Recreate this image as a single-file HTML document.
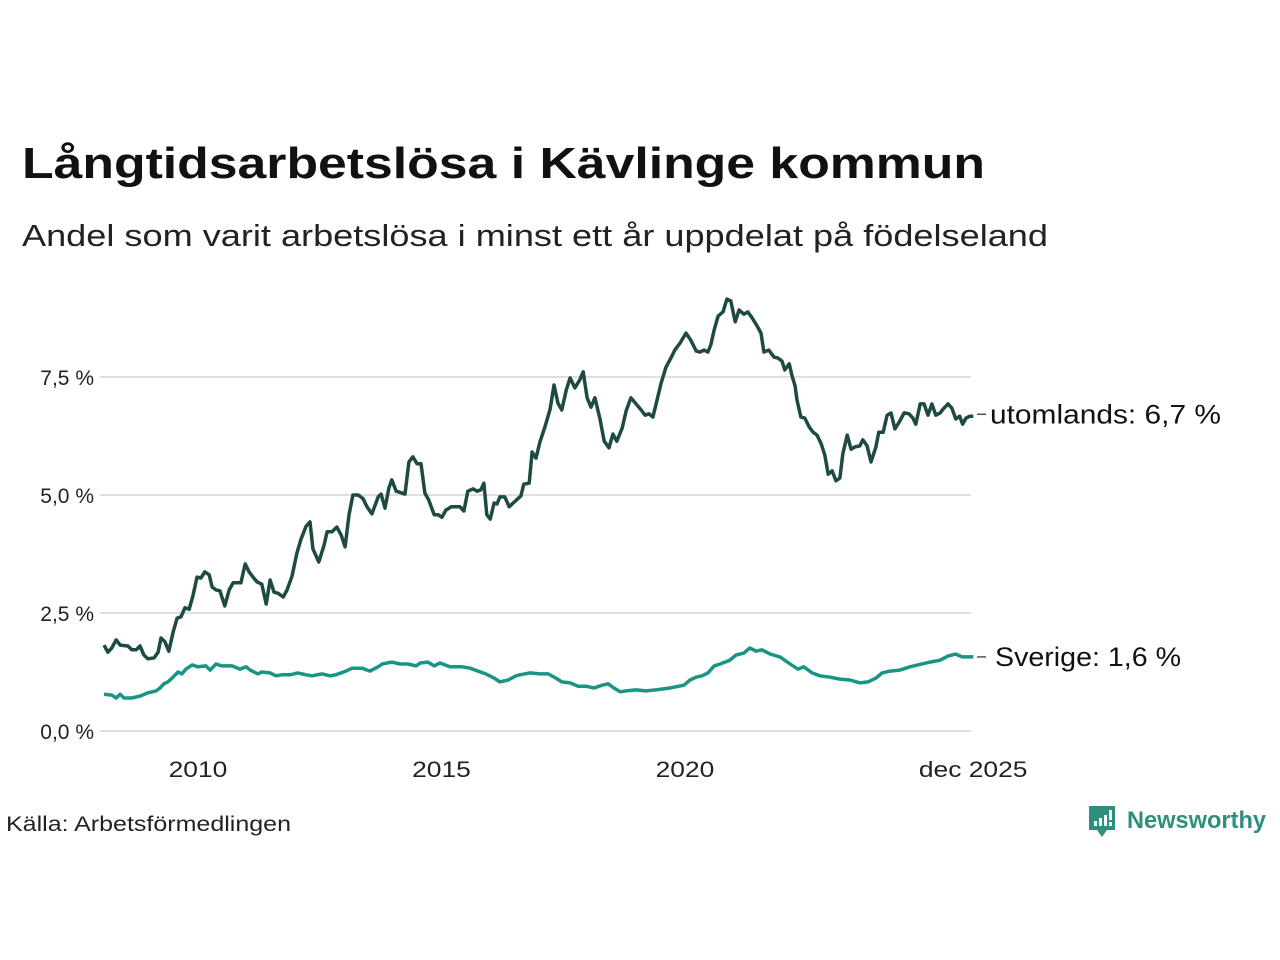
<!DOCTYPE html>
<html><head><meta charset="utf-8">
<style>
html,body{margin:0;padding:0;background:#fff;}
svg{display:block;font-family:"Liberation Sans","DejaVu Sans",sans-serif;}
</style></head>
<body>
<svg id="chart" width="1280" height="960" viewBox="0 0 1280 960">
<text x="22" y="178" font-size="44" font-weight="bold" fill="#111" textLength="963" lengthAdjust="spacingAndGlyphs">Långtidsarbetslösa i Kävlinge kommun</text>
<text x="22" y="246" font-size="31" fill="#222" textLength="1026" lengthAdjust="spacingAndGlyphs">Andel som varit arbetslösa i minst ett år uppdelat på födelseland</text>
<g id="grid"></g>
<g id="yaxis"></g>
<g id="xaxis"></g>
<g id="lines"></g>
<text x="6" y="831" font-size="21" fill="#222" textLength="285" lengthAdjust="spacingAndGlyphs">Källa: Arbetsförmedlingen</text>
<g>
<path d="M1089 806 h26 v24 h-8 l-5 7 l-5 -7 h-8 z" fill="#2e8f7f"/>
<rect x="1094" y="821" width="3" height="5" fill="#fff"/><rect x="1099" y="818" width="3" height="8" fill="#fff"/><rect x="1104" y="815" width="3" height="11" fill="#fff"/><rect x="1109" y="810" width="3" height="10" fill="#fff"/><rect x="1109" y="822" width="3" height="4" fill="#fff"/>
<text x="1127" y="828" font-size="24" font-weight="bold" fill="#2e8f7f" textLength="139" lengthAdjust="spacingAndGlyphs">Newsworthy</text>
</g>
</svg>
<script>
const yTicks=[0,2.5,5,7.5];
const yTickLabels=["0,0 %","2,5 %","5,0 %","7,5 %"];
const xTicks=[2010,2015,2020,2025.917];
const xTickLabels=["2010","2015","2020","dec 2025"];
const abroadDates=[2008.07,2008.15,2008.23,2008.32,2008.40,2008.56,2008.64,2008.73,2008.81,2008.89,2008.97,2009.10,2009.18,2009.24,2009.32,2009.40,2009.49,2009.57,2009.65,2009.73,2009.82,2009.90,2009.98,2010.06,2010.14,2010.23,2010.29,2010.37,2010.45,2010.55,2010.64,2010.72,2010.88,2010.97,2011.05,2011.13,2011.21,2011.31,2011.40,2011.48,2011.56,2011.64,2011.75,2011.83,2011.93,2012.03,2012.11,2012.22,2012.30,2012.36,2012.48,2012.59,2012.65,2012.75,2012.85,2012.94,2013.02,2013.10,2013.18,2013.29,2013.39,2013.47,2013.57,2013.70,2013.76,2013.84,2013.92,2013.98,2014.07,2014.19,2014.25,2014.33,2014.41,2014.50,2014.58,2014.66,2014.74,2014.85,2014.93,2015.01,2015.09,2015.20,2015.38,2015.46,2015.54,2015.65,2015.73,2015.81,2015.87,2015.93,2016.00,2016.08,2016.14,2016.20,2016.30,2016.39,2016.47,2016.63,2016.69,2016.80,2016.86,2016.94,2017.02,2017.13,2017.23,2017.31,2017.39,2017.47,2017.56,2017.64,2017.74,2017.84,2017.91,2017.99,2018.07,2018.15,2018.25,2018.34,2018.44,2018.52,2018.60,2018.71,2018.79,2018.89,2019.01,2019.10,2019.18,2019.26,2019.34,2019.42,2019.51,2019.61,2019.71,2019.79,2019.90,2020.02,2020.12,2020.23,2020.31,2020.39,2020.47,2020.53,2020.60,2020.68,2020.78,2020.86,2020.94,2021.03,2021.11,2021.21,2021.29,2021.38,2021.48,2021.56,2021.62,2021.72,2021.83,2021.91,2021.99,2022.05,2022.14,2022.20,2022.26,2022.30,2022.38,2022.46,2022.55,2022.63,2022.71,2022.79,2022.87,2022.94,2023.02,2023.10,2023.18,2023.24,2023.33,2023.41,2023.49,2023.59,2023.65,2023.74,2023.82,2023.92,2023.98,2024.07,2024.15,2024.23,2024.31,2024.39,2024.50,2024.60,2024.68,2024.74,2024.83,2024.91,2024.99,2025.07,2025.15,2025.24,2025.30,2025.40,2025.48,2025.56,2025.64,2025.70,2025.77,2025.85,2025.92];
const abroadValues=[1.82,1.67,1.76,1.93,1.82,1.80,1.72,1.72,1.80,1.61,1.53,1.55,1.67,1.97,1.89,1.69,2.10,2.39,2.42,2.61,2.58,2.88,3.26,3.24,3.37,3.31,3.05,2.99,2.97,2.65,2.99,3.14,3.14,3.54,3.37,3.26,3.16,3.11,2.69,3.20,2.94,2.92,2.84,2.99,3.28,3.77,4.05,4.34,4.43,3.86,3.58,3.94,4.22,4.22,4.32,4.15,3.90,4.58,5.00,5.00,4.92,4.75,4.60,4.96,5.02,4.72,5.15,5.32,5.08,5.04,5.02,5.70,5.81,5.66,5.66,5.04,4.89,4.58,4.58,4.53,4.68,4.75,4.75,4.66,5.08,5.13,5.08,5.11,5.25,4.58,4.49,4.83,4.81,4.96,4.96,4.75,4.83,4.98,5.23,5.25,5.91,5.78,6.12,6.46,6.82,7.33,6.95,6.80,7.22,7.48,7.27,7.44,7.61,7.06,6.86,7.06,6.63,6.14,6.00,6.29,6.14,6.42,6.78,7.06,6.91,6.80,6.69,6.72,6.65,6.99,7.37,7.71,7.90,8.07,8.22,8.43,8.28,8.05,8.03,8.07,8.03,8.18,8.50,8.79,8.88,9.15,9.11,8.67,8.92,8.83,8.88,8.75,8.58,8.43,8.03,8.07,7.92,7.90,7.84,7.65,7.78,7.52,7.31,7.01,6.65,6.63,6.44,6.33,6.27,6.10,5.85,5.44,5.51,5.30,5.36,5.87,6.27,5.97,6.02,6.04,6.17,6.04,5.70,6.02,6.33,6.33,6.69,6.74,6.40,6.53,6.74,6.72,6.63,6.50,6.93,6.93,6.69,6.93,6.69,6.74,6.82,6.93,6.84,6.61,6.67,6.50,6.63,6.67,6.67];
const swedenDates=[2008.07,2008.23,2008.32,2008.40,2008.48,2008.64,2008.81,2008.97,2009.14,2009.22,2009.30,2009.38,2009.47,2009.59,2009.67,2009.75,2009.88,2010.00,2010.16,2010.25,2010.37,2010.49,2010.70,2010.86,2010.99,2011.07,2011.23,2011.31,2011.48,2011.60,2011.72,2011.89,2012.05,2012.22,2012.34,2012.55,2012.71,2012.83,2013.04,2013.16,2013.37,2013.53,2013.70,2013.78,2013.98,2014.15,2014.31,2014.48,2014.56,2014.72,2014.85,2014.97,2015.17,2015.42,2015.59,2015.75,2015.91,2016.08,2016.20,2016.37,2016.53,2016.61,2016.82,2017.02,2017.19,2017.35,2017.47,2017.64,2017.80,2017.97,2018.13,2018.30,2018.42,2018.54,2018.67,2018.79,2018.99,2019.20,2019.40,2019.69,2019.98,2020.10,2020.23,2020.35,2020.47,2020.60,2020.72,2020.92,2021.05,2021.21,2021.33,2021.46,2021.58,2021.75,2021.95,2022.16,2022.32,2022.44,2022.61,2022.77,2022.98,2023.18,2023.39,2023.59,2023.76,2023.92,2024.05,2024.21,2024.41,2024.62,2024.78,2025.03,2025.24,2025.40,2025.56,2025.69,2025.85,2025.92];
const swedenValues=[0.78,0.76,0.70,0.78,0.70,0.70,0.74,0.81,0.85,0.91,1.00,1.04,1.12,1.25,1.21,1.31,1.40,1.36,1.38,1.29,1.42,1.38,1.38,1.31,1.36,1.29,1.21,1.25,1.23,1.17,1.19,1.19,1.23,1.19,1.17,1.21,1.17,1.19,1.27,1.33,1.33,1.27,1.36,1.42,1.46,1.42,1.42,1.38,1.44,1.46,1.38,1.44,1.36,1.36,1.33,1.27,1.21,1.12,1.04,1.08,1.17,1.19,1.23,1.21,1.21,1.12,1.04,1.02,0.95,0.95,0.91,0.97,1.00,0.91,0.83,0.85,0.87,0.85,0.87,0.91,0.97,1.08,1.14,1.17,1.23,1.38,1.42,1.50,1.61,1.65,1.76,1.69,1.72,1.63,1.57,1.42,1.31,1.36,1.23,1.17,1.14,1.10,1.08,1.02,1.04,1.12,1.23,1.27,1.29,1.36,1.40,1.46,1.50,1.59,1.63,1.57,1.57,1.57];

const NS='http://www.w3.org/2000/svg';
const X0=100,X1=971;
function xs(t){return 198+(t-2010)*48.7;}
function ys(v){return 731-v*47.2;}
function mk(tag,attrs,parent){const e=document.createElementNS(NS,tag);for(const k in attrs)e.setAttribute(k,attrs[k]);parent.appendChild(e);return e;}
const grid=document.getElementById('grid'),ya=document.getElementById('yaxis'),xa=document.getElementById('xaxis'),lines=document.getElementById('lines');
yTicks.forEach((v,i)=>{
  const l=mk('line',{x1:X0,x2:X1,y1:ys(v),y2:ys(v),stroke:'#dedede','stroke-width':2},grid);
  
  
  const t=mk('text',{x:94,y:ys(v)+8,'text-anchor':'end','font-size':21,fill:'#222'},ya);
  t.textContent=yTickLabels[i];
  
  
});
xTicks.forEach((v,i)=>{
  const t=mk('text',{x:xs(v),y:777,'text-anchor':'middle','font-size':22,fill:'#222'},xa);
  t.textContent=xTickLabels[i];
  
  
  const w=t.getComputedTextLength();
  t.setAttribute('textLength',(w*1.2).toFixed(1));
  t.setAttribute('lengthAdjust','spacingAndGlyphs');
});
function path(d,v){return d.map((t,i)=>(i?'L':'M')+xs(t).toFixed(1)+' '+ys(v[i]).toFixed(1)).join(' ');}
const p1=mk('path',{d:path(swedenDates,swedenValues),fill:'none',stroke:'#1a9484','stroke-width':3.5,'stroke-linejoin':'round'},lines);


const p2=mk('path',{d:path(abroadDates,abroadValues),fill:'none',stroke:'#1e4a43','stroke-width':3.5,'stroke-linejoin':'round'},lines);


function endLabel(val,txt,name,dx,len){
  const y=ys(val);
  const tk=mk('line',{x1:977,x2:986,y1:y,y2:y,stroke:'#555','stroke-width':1.5},lines);
  
  
  const t=mk('text',{x:dx,y:y+9,'font-size':27,fill:'#111',textLength:len,lengthAdjust:'spacingAndGlyphs'},lines);
  t.textContent=txt;
  
  
}
endLabel(abroadValues[abroadValues.length-1]+0.04,'utomlands: 6,7 %','utomlands-label',990,231);
endLabel(swedenValues[swedenValues.length-1],'Sverige: 1,6 %','sverige-label',995,186);
</script>
</body></html>
